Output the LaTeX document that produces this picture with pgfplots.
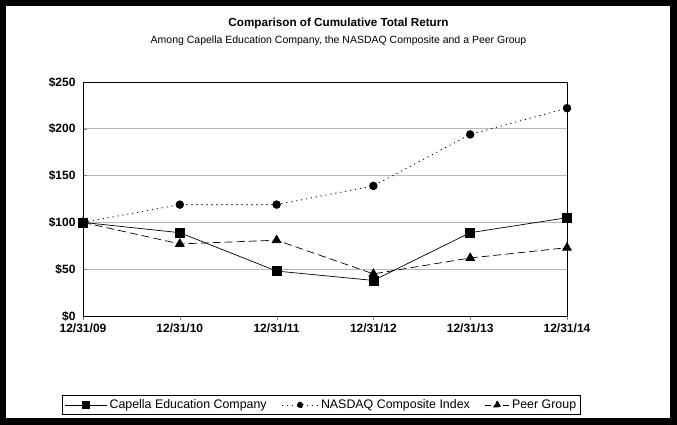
\documentclass[border=0pt]{standalone}
\usepackage{pgfplots}
\pgfplotsset{compat=1.18}
\usepackage{fontspec}
\setmainfont{Liberation Sans}
\pgfplotsset{
  legA/.style={legend image code/.code={\draw[##1,mark repeat=2,mark phase=2,mark options={scale=0.8}] plot coordinates {(0pt,0pt) (21pt,0pt) (42pt,0pt)};}},
  legB/.style={legend image code/.code={\draw[##1,mark repeat=2,mark phase=2,mark options={scale=0.8}] plot coordinates {(0pt,0pt) (18.5pt,0pt) (37pt,0pt)};}},
  legC/.style={legend image code/.code={\draw[##1,dash pattern=on 6pt off 3pt,mark repeat=2,mark phase=2,mark options={scale=0.8}] plot coordinates {(0pt,0pt) (12.5pt,0pt) (25pt,0pt)};}},
}
\begin{document}
\begin{tikzpicture}[x=1pt,y=1pt]
\fill[black] (0,0) rectangle (677,425);
\fill[white] (6,7) rectangle (670,419);
\node[font=\fontsize{11.7}{14}\selectfont\bfseries] at (338.5,401.5) {Comparison of Cumulative Total Return};
\node[font=\fontsize{10.5}{12}\selectfont] at (338.5,384) {Among Capella Education Company, the NASDAQ Composite and a Peer Group};
\begin{axis}[
  scale only axis, width=484pt, height=234pt,
  at={(83pt,109pt)}, anchor=south west,
  xmin=0, xmax=5, ymin=0, ymax=250,
  xtick={0,1,2,3,4,5},
  xticklabels={12/31/09,12/31/10,12/31/11,12/31/12,12/31/13,12/31/14},
  ytick={0,50,100,150,200,250},
  yticklabels={\$0,\$50,\$100,\$150,\$200,\$250},
  ticklabel style={font=\fontsize{12}{14}\selectfont\bfseries},
  yticklabel style={xshift=-4pt},
  xtick pos=bottom, ytick pos=left,
  xtick align=outside, ytick align=inside, major tick length=4pt,
  ymajorgrids, grid style={gray!55, line width=0.8pt},
  axis line style={line width=0.8pt},
  clip=false,
  legend columns=3,
  legend style={at={(0.4928,-0.380)}, anchor=center, draw=black, line width=0.8pt,
    inner sep=2pt,
    font=\fontsize{12.4}{14}\selectfont,
    /tikz/every odd column/.append style={column sep=0pt},
    /tikz/every even column/.append style={column sep=12.5pt}},
]
\addplot[black, line width=0.7pt, mark=square*, mark size=4.5pt, mark options={solid}, legA]
  coordinates {(0,100) (1,89) (2,48) (3,38) (4,89) (5,105)};
\addlegendentry{Capella Education Company}
\addplot[black, line width=0.8pt, dash pattern=on 1.2pt off 3.8pt, mark=*, mark size=3.8pt, mark options={solid}, legB]
  coordinates {(0,100) (1,119) (2,119) (3,139) (4,194) (5,222)};
\addlegendentry{NASDAQ Composite Index}
\addplot[black, line width=0.7pt, dash pattern=on 8pt off 4pt, mark=triangle*, mark size=5pt, mark options={solid}, legC]
  coordinates {(0,100) (1,77) (2,81) (3,45) (4,62) (5,73)};
\addlegendentry{Peer Group}
\end{axis}
\end{tikzpicture}
\end{document}
